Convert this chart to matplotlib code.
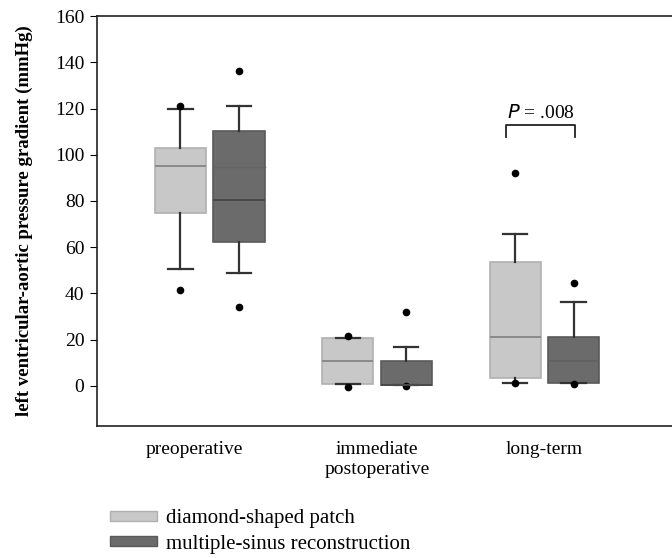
import matplotlib.pyplot as plt
import matplotlib.patches as mpatches

plt.rcParams['font.family'] = ['Liberation Serif', 'DejaVu Serif']

categories = ['preoperative', 'immediate\npostoperative', 'long-term']
groups = ['diamond-shaped patch', 'multiple-sinus reconstruction']

# box stats: [preop, immediate, long-term]
patch_q1 = [74.7, 0.7, 3.3]
patch_med = [95.1, 10.9, 21.1]
patch_q3 = [102.8, 20.6, 53.5]
patch_lo = [50.5, 0.7, 1.2]
patch_hi = [119.9, 20.6, 65.7]
patch_fliers = [[121.2, 41.5], [21.7, -0.3], [92.2, 1.2]]

sinus_q1 = [62.4, 0.4, 1.4]
sinus_med = [80.4, 0.4, 10.9]
sinus_q3 = [110.3, 10.9, 21.3]
sinus_lo = [48.7, 0.4, 1.4]
sinus_hi = [121.2, 16.7, 36.5]
sinus_fliers = [[136.2, 34.0], [31.9, 0.0], [44.4, 0.9]]
sinus_extra_line = [94.8, None, None]

yticks = [0, 20, 40, 60, 80, 100, 120, 140, 160]
p_text = '$P$ = .008'

fig = plt.figure(figsize=(6.72, 5.58), dpi=100)
ax = fig.add_axes([0.1443, 0.2366, 0.8557, 0.7347])

light = '#c8c8c8'
dark = '#6b6b6b'
off = 0.175
w = 0.305


def stats(q1, med, q3, lo, hi, fl):
    out = []
    for i in range(len(q1)):
        out.append(dict(q1=q1[i], med=med[i], q3=q3[i], whislo=lo[i], whishi=hi[i], fliers=fl[i]))
    return out


common = dict(widths=w, patch_artist=True, showfliers=True,
              whiskerprops=dict(color='#333333', lw=1.6),
              capprops=dict(color='#333333', lw=1.6),
              flierprops=dict(marker='o', markerfacecolor='black', markeredgecolor='black',
                              markersize=4.5),
              capwidths=0.145)

pos1 = [i - off for i in range(3)]
pos2 = [i + off for i in range(3)]
b1 = ax.bxp(stats(patch_q1, patch_med, patch_q3, patch_lo, patch_hi, patch_fliers),
            positions=pos1,
            boxprops=dict(facecolor=light, edgecolor='#b0b0b0', lw=1.2),
            medianprops=dict(color='#8a8a8a', lw=1.4), **common)
b2 = ax.bxp(stats(sinus_q1, sinus_med, sinus_q3, sinus_lo, sinus_hi, sinus_fliers),
            positions=pos2,
            boxprops=dict(facecolor=dark, edgecolor='#5a5a5a', lw=1.2),
            medianprops=dict(color='#4a4a4a', lw=1.4), **common)
# long-term median of the dark box is hardly visible
b2['medians'][2].set_color('#626262')
for i, v in enumerate(sinus_extra_line):
    if v is not None:
        ax.plot([pos2[i] - w / 2, pos2[i] + w / 2], [v, v], color='#636363', lw=1.0, zorder=3)

# significance bracket
x_a, x_b = pos1[2] - 0.055, pos2[2] + 0.01
ax.plot([x_a, x_a, x_b, x_b], [107.7, 112.9, 112.9, 107.7], color='#222222', lw=1.3)
ax.text((x_a + x_b) / 2, 114.3, p_text, ha='center', va='bottom', fontsize=14)

ax.set_xlim(-0.674, 2.763)
ax.set_ylim(-17.3, 160)
ax.set_yticks(yticks)
ax.set_yticklabels([str(t) for t in yticks], fontsize=14)
ax.set_xticks([-0.09, 1, 2])
ax.set_xticklabels(categories, fontsize=14, va='top', linespacing=1.2)
ax.tick_params(axis='x', length=0, pad=11)
ax.tick_params(axis='y', length=5, width=0.8, pad=4, direction='out')
ax.spines['right'].set_visible(False)
for s in ['left', 'top', 'bottom']:
    ax.spines[s].set_linewidth(1.2)
    ax.spines[s].set_color('#222222')
ax.set_ylabel('left ventricular-aortic pressure gradient (mmHg)', fontsize=13.5,
              fontweight='bold', labelpad=16)

h1 = mpatches.Patch(facecolor=light, edgecolor='#b0b0b0')
h2 = mpatches.Patch(facecolor=dark, edgecolor='#5a5a5a')
fig.legend([h1, h2], groups, loc='upper left', bbox_to_anchor=(0.163, 0.087),
           frameon=False, fontsize=15, handlelength=2.3, handleheight=0.38,
           handletextpad=0.4, labelspacing=0.3, borderaxespad=0, borderpad=0)

fig.savefig('out.png', dpi=100)
